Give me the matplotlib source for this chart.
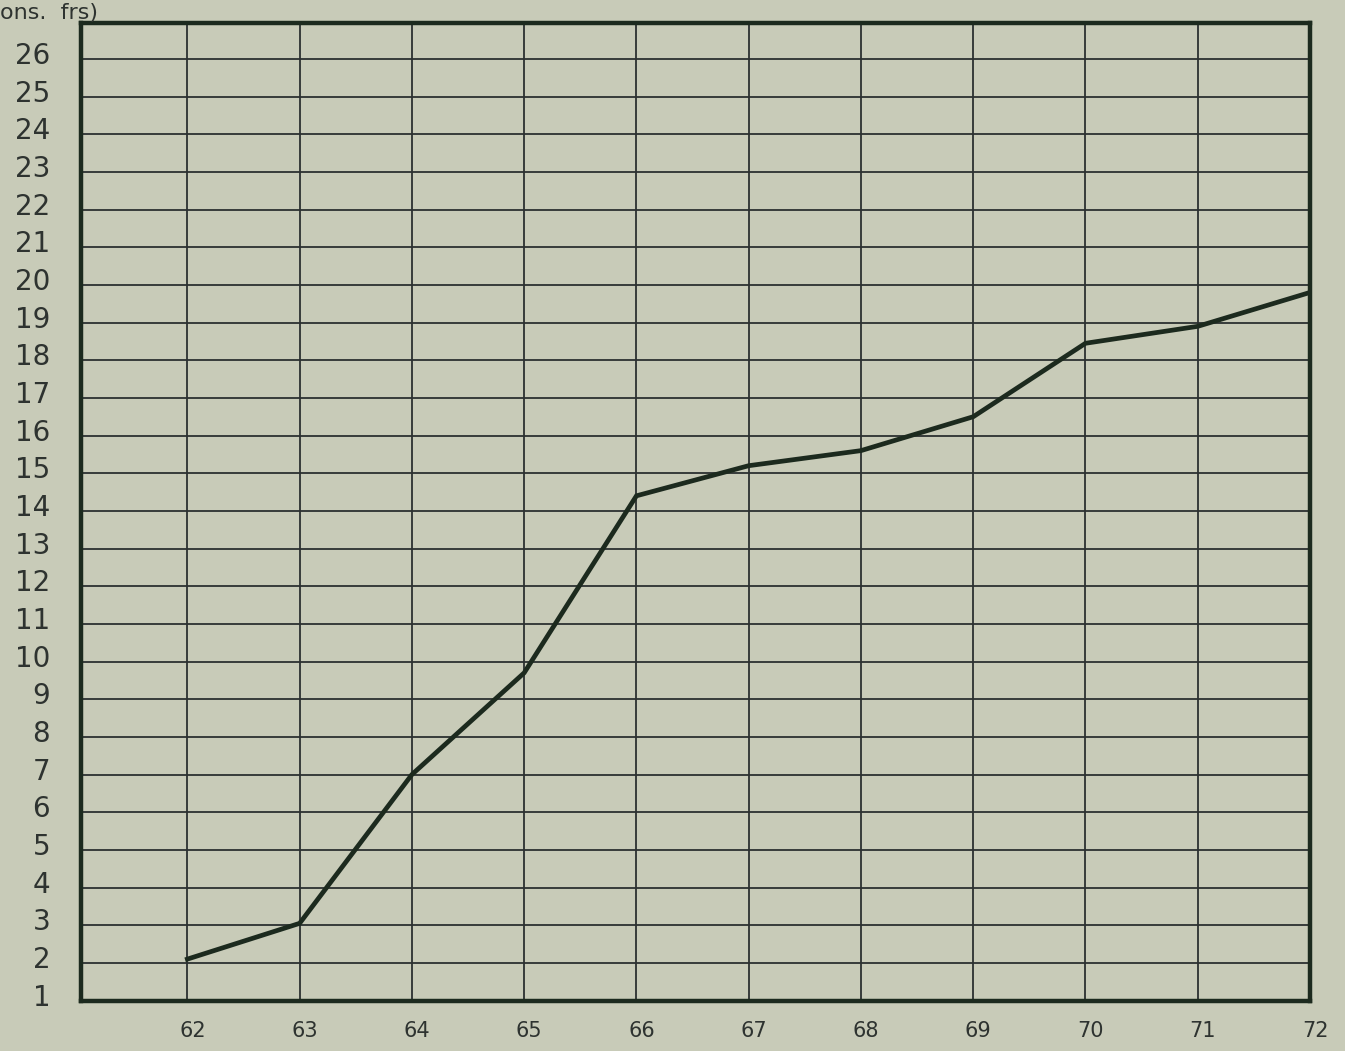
import numpy as np
import matplotlib.pyplot as plt
import matplotlib.transforms as mtransforms

# Values (years 19xx, amounts in millions frs)
years = [62, 63, 64, 65, 66, 67, 68, 69, 70, 71, 72]
values = [2.1, 3.05, 7.0, 9.7, 14.4, 15.2, 15.6, 16.5, 18.45, 18.9, 19.8]
y_ticks = list(range(1, 27))
x_ticks = years

paper = '#c8cbb8'
ink = '#1c2a1e'

fig = plt.figure(figsize=(13.45, 10.51), dpi=100, facecolor=paper)
ax = fig.add_axes([0.06, 0.048, 0.914, 0.93])
ax.set_facecolor(paper)

ax.plot(years, values, color=ink, linewidth=3.4, solid_joinstyle='miter', zorder=3)

ax.set_xlim(61.05, 72)
ax.set_ylim(1, 26.95)
ax.set_xticks(x_ticks)
ax.set_yticks(y_ticks)
ax.set_xticklabels([str(x) for x in x_ticks])
ax.set_yticklabels([str(y) for y in y_ticks])

ax.grid(True, color='#2b3030', linewidth=1.3)
ax.set_axisbelow(True)
for s in ax.spines.values():
    s.set_linewidth(3.2)
    s.set_color(ink)

ax.tick_params(axis='both', length=0, colors='#2e3330')
ax.tick_params(axis='y', labelsize=20, pad=22)
ax.tick_params(axis='x', labelsize=15, pad=15)

# y labels sit a little above their grid lines on the original
up = mtransforms.ScaledTranslation(0, 6 / 100, fig.dpi_scale_trans)
for lab in ax.get_yticklabels():
    lab.set_transform(lab.get_transform() + up)
right = mtransforms.ScaledTranslation(5 / 100, 0, fig.dpi_scale_trans)
for lab in ax.get_xticklabels():
    lab.set_transform(lab.get_transform() + right)

fig.text(0.0, 0.997, 'ons.  frs)', fontsize=16, color='#2e3330', ha='left', va='top')

plt.savefig('out.png', dpi=100, facecolor=paper)
